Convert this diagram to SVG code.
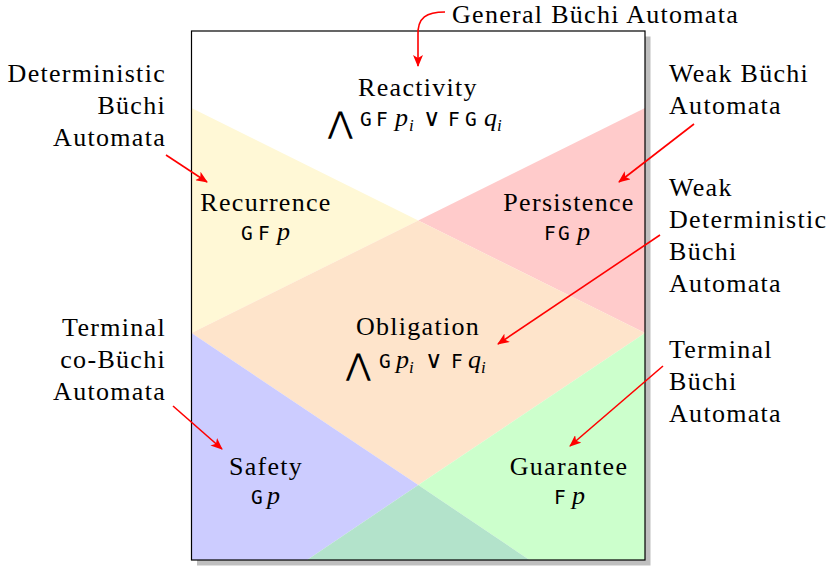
<svg xmlns="http://www.w3.org/2000/svg" width="830" height="570" viewBox="0 0 830 570">
<defs>
<style>
.lbl{font-family:"Liberation Serif","Times New Roman",serif;font-size:26px;letter-spacing:1.3px;fill:#000}
.it{font-family:"Liberation Serif","Times New Roman",serif;font-style:italic;font-size:26px;fill:#000}
.sub{font-family:"Liberation Serif","Times New Roman",serif;font-style:italic;font-size:17px;fill:#000}
.tt{font-family:"DejaVu Sans Mono",monospace;font-size:19.5px;fill:#000}
.op{font-family:"DejaVu Sans",sans-serif;font-weight:200;font-size:30px;fill:#000}
.vee{font-family:"DejaVu Sans",sans-serif;font-weight:200;font-size:24px;fill:#000}
.arr{fill:none;stroke:#ff0000;stroke-width:1.6;marker-end:url(#ah)}
</style>
<marker id="ah" markerUnits="userSpaceOnUse" markerWidth="12" markerHeight="10" viewBox="0 0 12 10" refX="11" refY="5" orient="auto">
<path d="M0,0 L12,5 L0,10 L3,5 Z" fill="#ff0000"/>
</marker>
</defs>

<g id="frame">
<rect x="197" y="36.5" width="453.5" height="529" fill="#bfbfbf"/>
<rect x="191.5" y="31" width="453.5" height="529" fill="#ffffff"/>
<polygon points="191.5,108 418.25,220.5 191.5,333" fill="#fff8d6"/>
<polygon points="645,108 418.25,220.5 645,333" fill="#ffcbcb"/>
<polygon points="418.25,220.5 645,333 418.25,485 191.5,333" fill="#fee4cb"/>
<polygon points="191.5,333 418.25,485 307,560 191.5,560" fill="#ccccff"/>
<polygon points="645,333 645,560 529.5,560 418.25,485" fill="#ccffcc"/>
<polygon points="418.25,485 529.5,560 307,560" fill="#b3e3cb"/>
<rect x="191.5" y="31" width="453.5" height="529" fill="none" stroke="#000" stroke-width="1.2"/>
</g>

<g id="reactivity">
<text class="lbl" x="418" y="96" text-anchor="middle">Reactivity</text>
<text y="126"><tspan class="op" x="328" y="133">⋀</tspan><tspan class="tt" x="360" y="126">G</tspan><tspan class="tt" x="376">F</tspan><tspan class="it" x="395">p</tspan><tspan class="sub" x="409" y="131">i</tspan><tspan class="vee" x="423" y="126">∨</tspan><tspan class="tt" x="448">F</tspan><tspan class="tt" x="465">G</tspan><tspan class="it" x="484">q</tspan><tspan class="sub" x="497" y="131">i</tspan></text>
</g>

<g id="recurrence">
<text class="lbl" x="266" y="211" text-anchor="middle">Recurrence</text>
<text y="240"><tspan class="tt" x="241">G</tspan><tspan class="tt" x="258">F</tspan><tspan class="it" x="277">p</tspan></text>
</g>

<g id="persistence">
<text class="lbl" x="569" y="211" text-anchor="middle">Persistence</text>
<text y="240"><tspan class="tt" x="544">F</tspan><tspan class="tt" x="558">G</tspan><tspan class="it" x="577">p</tspan></text>
</g>

<g id="obligation">
<text class="lbl" x="418" y="335" text-anchor="middle">Obligation</text>
<text y="368"><tspan class="op" x="346" y="375">⋀</tspan><tspan class="tt" x="379" y="368">G</tspan><tspan class="it" x="396">p</tspan><tspan class="sub" x="409" y="373">i</tspan><tspan class="vee" x="425" y="368">∨</tspan><tspan class="tt" x="451">F</tspan><tspan class="it" x="468">q</tspan><tspan class="sub" x="481" y="373">i</tspan></text>
</g>

<g id="safety">
<text class="lbl" x="266" y="475" text-anchor="middle">Safety</text>
<text y="504"><tspan class="tt" x="251">G</tspan><tspan class="it" x="267">p</tspan></text>
</g>

<g id="guarantee">
<text class="lbl" x="569" y="475" text-anchor="middle">Guarantee</text>
<text y="504"><tspan class="tt" x="554">F</tspan><tspan class="it" x="572">p</tspan></text>
</g>

<g id="general-buchi">
<text class="lbl" x="452" y="23">General Büchi Automata</text>
</g>

<g id="deterministic-buchi">
<text class="lbl" text-anchor="end"><tspan x="166" y="82">Deterministic</tspan><tspan x="166" y="114">Büchi</tspan><tspan x="166" y="146">Automata</tspan></text>
</g>

<g id="terminal-cobuchi">
<text class="lbl" text-anchor="end"><tspan x="166" y="336">Terminal</tspan><tspan x="166" y="368">co-Büchi</tspan><tspan x="166" y="400">Automata</tspan></text>
</g>

<g id="weak-buchi">
<text class="lbl"><tspan x="669" y="82">Weak Büchi</tspan><tspan x="669" y="114">Automata</tspan></text>
</g>

<g id="weak-deterministic-buchi">
<text class="lbl"><tspan x="669" y="196">Weak</tspan><tspan x="669" y="228">Deterministic</tspan><tspan x="669" y="260">Büchi</tspan><tspan x="669" y="292">Automata</tspan></text>
</g>

<g id="terminal-buchi">
<text class="lbl"><tspan x="669" y="358">Terminal</tspan><tspan x="669" y="390">Büchi</tspan><tspan x="669" y="422">Automata</tspan></text>
</g>

<g id="connectors">
<path class="arr" d="M445,12 C427,12 417,17 418,36 L418,66"/>
<path class="arr" d="M166,155 L207,182"/>
<path class="arr" d="M694,124 L619,182"/>
<path class="arr" d="M660,235 L498,344"/>
<path class="arr" d="M173,406 L222,449"/>
<path class="arr" d="M663,366 L570,446"/>
</g>
</svg>
